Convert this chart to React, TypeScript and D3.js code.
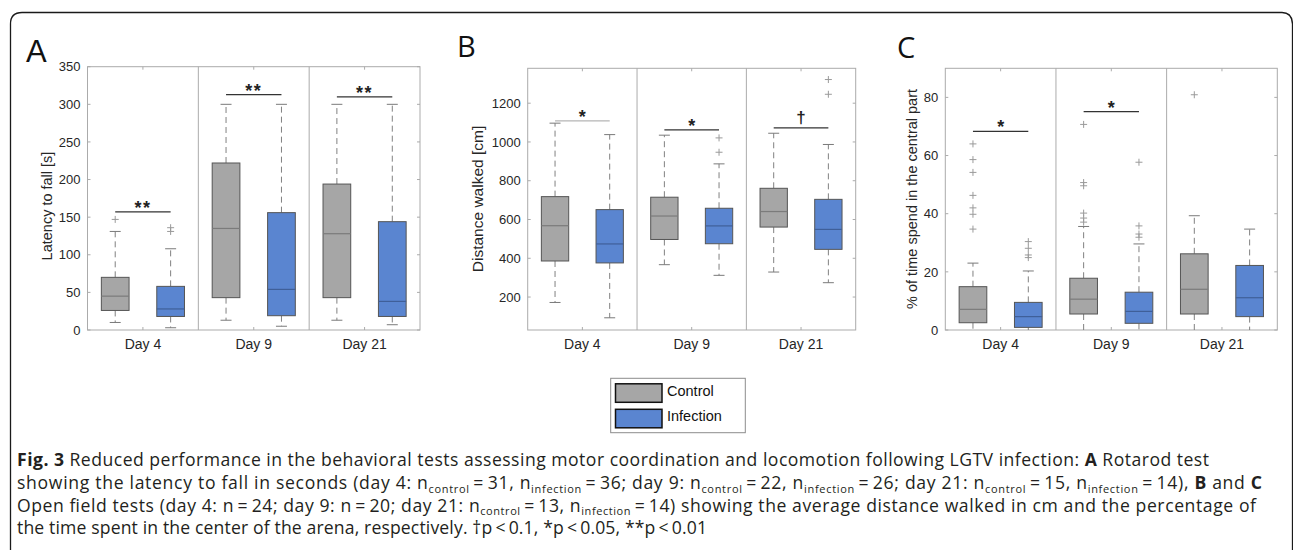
import React from "react";
import * as d3 from "d3";

// ---- data ----
const days = ["Day 4", "Day 9", "Day 21"];
const groups = ["Control", "Infection"];

// [lower whisker, q1, median, q3, upper whisker] per day
const latencyControl = [
  [10, 26, 45, 70, 131],
  [13, 43, 135, 222, 300],
  [13, 43, 128, 194, 300],
];
const latencyInfection = [
  [3, 18, 28, 58, 108],
  [5, 19, 54, 156, 300],
  [7, 18, 38, 144, 300],
];
const latencyControlOutliers = [[147], [], []];
const latencyInfectionOutliers = [[136, 131], [], []];
const latencySigLabels = ["**", "**", "**"];
const latencySigLevels = [157, 313, 310];
const latencyTicks = [0, 50, 100, 150, 200, 250, 300, 350];

const distanceControl = [
  [172, 386, 568, 718, 1097],
  [367, 497, 618, 715, 1035],
  [329, 561, 641, 761, 1045],
];
const distanceInfection = [
  [93, 376, 474, 651, 1038],
  [312, 475, 567, 658, 887],
  [274, 446, 549, 704, 987],
];
const distanceControlOutliers = [[], [], []];
const distanceInfectionOutliers = [[], [1021, 947], [1322, 1246]];
const distanceSigLabels = ["*", "*", "\u2020"];
const distanceSigLevels = [1109, 1062, 1073];
const distanceTicks = [200, 400, 600, 800, 1000, 1200];

const centralControl = [
  [0, 2.5, 7.1, 14.9, 23],
  [0, 5.5, 10.6, 17.8, 35.6],
  [0, 5.5, 14, 26.2, 39.3],
];
const centralInfection = [
  [0, 0.9, 4.6, 9.5, 20.3],
  [0, 2.3, 6.4, 13, 29.6],
  [0, 4.6, 11.1, 22.2, 34.7],
];
const centralControlOutliers = [
  [64, 58.6, 54.2, 46.3, 42, 39.8, 34.7],
  [70.7, 50.7, 49.6, 40.2, 38.5, 37.1],
  [80.9],
];
const centralInfectionOutliers = [[30.4, 28.1, 25.8, 24.9], [57.7, 35.8, 33, 31.9], []];
const centralSigLabels = ["*", "*", null];
const centralSigLevels = [68.3, 75.1, null];
const centralTicks = [0, 20, 40, 60, 80];

// ---- styling ----
const FILL = ["#a6a6a6", "#5a85d0"];
const MEDIAN = ["#7b7b7b", "#3f5f99"];
const AXIS = "#ababab";
const TXT = "#262626";
const SANS = "'Liberation Sans', Arial, sans-serif";
const CAP = "'Open Sans', 'Noto Sans', sans-serif";

const PLOT_BOTTOM = 330;

const panels = [
  {
    letter: "A", letterX: 26, letterY: 62, letterFont: SANS, letterSize: 31,
    x0: 87.5, x1: 420, top: 66.7, domain: [0, 350], ticks: latencyTicks,
    label: "Latency to fall [s]", labelX: 47, labelY: 206, labelSize: 14.5,
    stats: [latencyControl, latencyInfection],
    outliers: [latencyControlOutliers, latencyInfectionOutliers],
    sigLabels: latencySigLabels, sigLevels: latencySigLevels,
    sigColors: ["#333", "#333", "#333"],
  },
  {
    letter: "B", letterX: 457, letterY: 57, letterFont: CAP, letterSize: 29,
    x0: 527.7, x1: 855.7, top: 68.3, domain: [30, 1380], ticks: distanceTicks,
    label: "Distance walked [cm]", labelX: 478, labelY: 199, labelSize: 15.5,
    stats: [distanceControl, distanceInfection],
    outliers: [distanceControlOutliers, distanceInfectionOutliers],
    sigLabels: distanceSigLabels, sigLevels: distanceSigLevels,
    sigColors: ["#b5b5b5", "#333", "#333"],
  },
  {
    letter: "C", letterX: 897, letterY: 58, letterFont: CAP, letterSize: 29,
    x0: 945.3, x1: 1277.3, top: 68.3, domain: [0, 90], ticks: centralTicks,
    label: "% of time spend in the central part", labelX: 912, labelY: 199, labelSize: 14.5,
    stats: [centralControl, centralInfection],
    outliers: [centralControlOutliers, centralInfectionOutliers],
    sigLabels: centralSigLabels, sigLevels: centralSigLevels,
    sigColors: ["#333", "#333", "#333"],
  },
];

function Panel({ p }: { p: any }) {
  const y = d3.scaleLinear().domain(p.domain).range([PLOT_BOTTOM, p.top]);
  const xDay = d3.scaleBand().domain(days).range([p.x0, p.x1]).padding(0);
  const bw = xDay.bandwidth();
  const xGroup = d3.scalePoint().domain(groups).range([0, bw]).padding(0.5);
  const boxW = bw * 0.25;
  const capW = 11;
  const cx = (day: string, g: string) => (xDay(day) as number) + (xGroup(g) as number);

  return (
    <g>
      <text x={p.letterX} y={p.letterY} fontFamily={p.letterFont} fontSize={p.letterSize} fill="#111">
        {p.letter}
      </text>
      {/* plot frame */}
      <rect x={p.x0} y={p.top} width={p.x1 - p.x0} height={PLOT_BOTTOM - p.top} fill="#fff" stroke={AXIS} />
      {days.slice(1).map((d) => (
        <line key={d} x1={xDay(d)} x2={xDay(d)} y1={p.top} y2={PLOT_BOTTOM} stroke={AXIS} />
      ))}
      {/* y ticks */}
      {p.ticks.map((t: number) => (
        <g key={t}>
          <line x1={p.x0} x2={p.x0 + 3} y1={y(t)} y2={y(t)} stroke={AXIS} />
          <line x1={p.x1} x2={p.x1 - 3} y1={y(t)} y2={y(t)} stroke={AXIS} />
          <text x={p.x0 - 7} y={y(t)} dy="0.36em" textAnchor="end" fontFamily={SANS} fontSize={13} fill={TXT}>
            {t}
          </text>
        </g>
      ))}
      {/* x ticks */}
      {days.map((d) => {
        const c = (xDay(d) as number) + bw / 2;
        return (
          <g key={d}>
            <line x1={c} x2={c} y1={PLOT_BOTTOM} y2={PLOT_BOTTOM - 3} stroke={AXIS} />
            <line x1={c} x2={c} y1={p.top} y2={p.top + 3} stroke={AXIS} />
            <text x={c} y={349} textAnchor="middle" fontFamily={SANS} fontSize={14} fill={TXT}>
              {d}
            </text>
          </g>
        );
      })}
      <text
        transform={`translate(${p.labelX},${p.labelY}) rotate(-90)`}
        dy="0.35em"
        textAnchor="middle"
        fontFamily={SANS}
        fontSize={p.labelSize}
        fill={TXT}
      >
        {p.label}
      </text>
      {/* boxes */}
      {groups.map((g, gi) =>
        days.map((d, di) => {
          const [lo, q1, med, q3, hi] = p.stats[gi][di];
          const c = cx(d, g);
          return (
            <g key={g + d}>
              <line x1={c} x2={c} y1={y(q3)} y2={y(hi)} stroke="#808080" strokeDasharray="6,4" />
              <line x1={c} x2={c} y1={y(q1)} y2={y(lo)} stroke="#808080" strokeDasharray="6,4" />
              <line x1={c - capW / 2} x2={c + capW / 2} y1={y(hi)} y2={y(hi)} stroke="#7a7a7a" />
              {lo > p.domain[0] && (
                <line x1={c - capW / 2} x2={c + capW / 2} y1={y(lo)} y2={y(lo)} stroke="#7a7a7a" />
              )}
              <rect
                x={c - boxW / 2}
                y={y(q3)}
                width={boxW}
                height={y(q1) - y(q3)}
                fill={FILL[gi]}
                stroke="#555"
                strokeWidth={1}
              />
              <line x1={c - boxW / 2} x2={c + boxW / 2} y1={y(med)} y2={y(med)} stroke={MEDIAN[gi]} strokeWidth={1.2} />
              {p.outliers[gi][di].map((o: number, oi: number) => (
                <path
                  key={oi}
                  d={`M${c - 3.5},${y(o)}H${c + 3.5}M${c},${y(o) - 3.5}V${y(o) + 3.5}`}
                  stroke="#9a9a9a"
                  strokeWidth={1}
                  fill="none"
                />
              ))}
            </g>
          );
        })
      )}
      {/* significance bars */}
      {days.map((d, di) => {
        const lab = p.sigLabels[di];
        if (lab == null) return null;
        const yy = y(p.sigLevels[di]);
        const a = cx(d, groups[0]);
        const b = cx(d, groups[1]);
        const dagger = lab === "\u2020";
        return (
          <g key={"s" + d}>
            <line x1={a} x2={b} y1={yy} y2={yy} stroke={p.sigColors[di]} strokeWidth={1.2} />
            <text
              x={(a + b) / 2}
              y={dagger ? yy - 5 : yy + 2}
              textAnchor="middle"
              fontFamily={SANS}
              fontSize={dagger ? 17 : 18}
              fontWeight="bold"
              letterSpacing={lab === "**" ? 1.5 : 0}
              fill="#222"
            >
              {lab}
            </text>
          </g>
        );
      })}
    </g>
  );
}

const Sub = ({ children }: { children: any }) => (
  <>
    <tspan dy={3.5} fontSize={11}>
      {children}
    </tspan>
    <tspan dy={-3.5}>{"\u2009=\u2009"}</tspan>
  </>
);

export default function App() {
  return (
    <svg
      width={1293}
      height={550}
      style={{ position: "absolute", left: 0, top: 0, background: "#fff" }}
    >
      <rect width={1293} height={550} fill="#fff" />
      <path d="M10.5,550 V24 Q10.5,12.5 22,12.5 H1282 Q1292,12.5 1292.5,24 V550" fill="none" stroke="#1a1a1a" strokeWidth={1.3} />
      {panels.map((p) => (
        <Panel key={p.letter} p={p} />
      ))}
      {/* legend */}
      <g>
        <rect x={610.7} y={378.3} width={134.6} height={54.4} fill="#fff" stroke="#8c8c8c" />
        {groups.map((g, i) => (
          <g key={g}>
            <rect x={615.5} y={383.8 + i * 25.5} width={46.5} height={18.5} fill={FILL[i]} stroke="#111" strokeWidth={1.5} />
            <text x={667} y={395.5 + i * 25} fontFamily={SANS} fontSize={14.5} fill="#111">
              {g}
            </text>
          </g>
        ))}
      </g>
      {/* caption */}
      <g fontFamily={CAP} fontSize={17.6} fill="#231f20">
        <text x={17} y={466} textLength={1192} lengthAdjust="spacing">
          <tspan fontWeight="bold">Fig. 3</tspan>
          {"  Reduced performance in the behavioral tests assessing motor coordination and locomotion following LGTV infection: "}
          <tspan fontWeight="bold">A</tspan>
          {" Rotarod test"}
        </text>
        <text x={17} y={489} textLength={1245} lengthAdjust="spacing">
          {"showing the latency to fall in seconds (day 4: n"}
          <Sub>control</Sub>
          {"31, n"}
          <Sub>infection</Sub>
          {"36; day 9: n"}
          <Sub>control</Sub>
          {"22, n"}
          <Sub>infection</Sub>
          {"26; day 21: n"}
          <Sub>control</Sub>
          {"15, n"}
          <Sub>infection</Sub>
          {"14), "}
          <tspan fontWeight="bold">B</tspan>
          {" and "}
          <tspan fontWeight="bold">C</tspan>
        </text>
        <text x={17} y={511.5} textLength={1239} lengthAdjust="spacing">
          {"Open field tests (day 4: n\u2009=\u200924; day 9: n\u2009=\u200920; day 21: n"}
          <Sub>control</Sub>
          {"13, n"}
          <Sub>infection</Sub>
          {"14) showing the average distance walked in cm and the percentage of"}
        </text>
        <text x={17} y={534} textLength={690} lengthAdjust="spacing">
          {"the time spent in the center of the arena, respectively. \u2020p\u2009<\u20090.1, *p\u2009<\u20090.05, **p\u2009<\u20090.01"}
        </text>
      </g>
    </svg>
  );
}
